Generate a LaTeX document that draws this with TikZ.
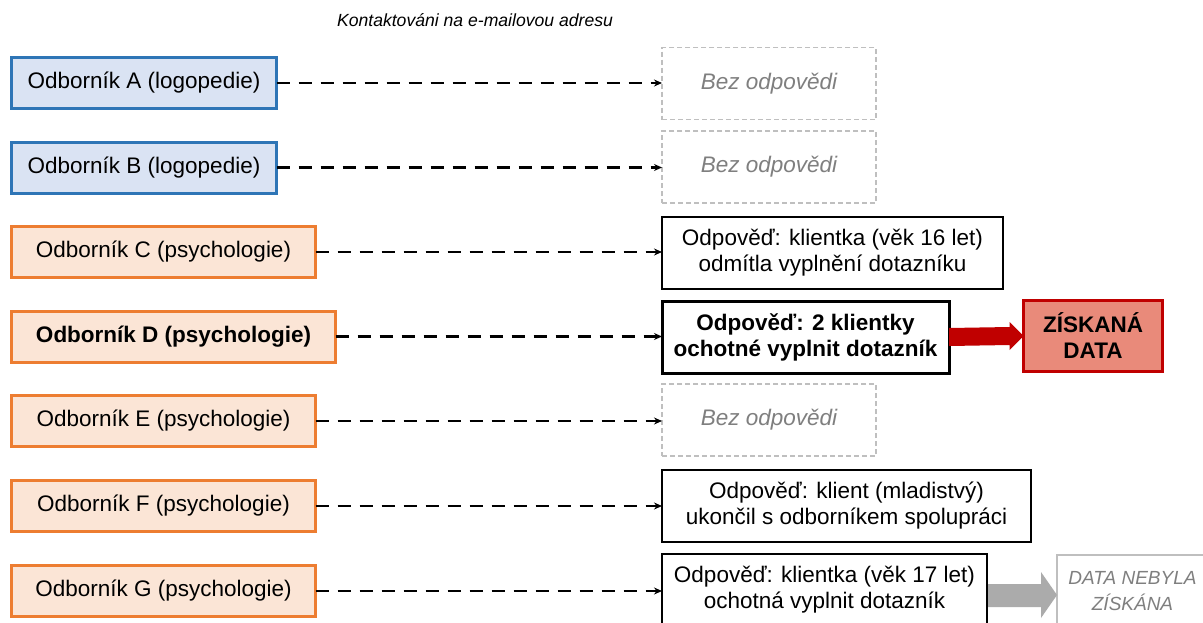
\documentclass[tikz,border=0pt]{standalone}
\usepackage{fontspec}
\setmainfont{Liberation Sans}
\usetikzlibrary{calc,arrows.meta}
\definecolor{bblue}{HTML}{2E75B6}
\definecolor{fblue}{HTML}{DAE3F3}
\definecolor{borange}{HTML}{ED7D31}
\definecolor{forange}{HTML}{FBE5D6}
\definecolor{dred}{HTML}{C00000}
\definecolor{salmon}{HTML}{E98A7A}
\definecolor{lgray}{HTML}{BFBFBF}
\definecolor{tgray}{HTML}{7F7F7F}
\definecolor{agray}{HTML}{ABABAB}
\begin{document}
\begin{tikzpicture}[x=1pt,y=-1pt,
  every node/.style={font=\fontsize{22.5}{26}\selectfont, align=center, inner sep=0pt, outer sep=0pt},
  logobox/.style={draw=bblue, fill=fblue, line width=3pt, minimum width=265pt, minimum height=51pt},
  psybox/.style={draw=borange, fill=forange, line width=3pt, minimum width=304pt, minimum height=51pt},
  noreply/.style={draw=lgray, dash pattern=on 5pt off 3pt, line width=1.5pt, text=tgray, font=\fontsize{22.5}{26}\selectfont\itshape, minimum width=214pt, minimum height=72pt, anchor=west},
  respbox/.style={draw=black, line width=2pt, minimum height=72pt, anchor=west},
  dlink/.style={draw=black, line width=2.3pt, dash pattern=on 13pt off 9pt, -{Stealth[length=8pt,width=7pt]}},
]
\useasboundingbox (0,0) rectangle (1203,622);
\fill[white] (0,0) rectangle (1203,622);
\clip (0,0) rectangle (1203,622);

\node[font=\fontsize{17.6}{20}\selectfont\itshape] (T) at (475,20) {Kontaktováni na e-mailovou adresu};

\node[logobox] (A) at (144,83) {Odborník A (logopedie)};
\node[logobox] (B) at (144,167.5) {Odborník B (logopedie)};
\node[psybox] (C) at (163.5,252) {Odborník C (psychologie)};
\node[psybox, minimum width=324pt, font=\fontsize{22.5}{26}\selectfont\bfseries] (D) at (173.5,336.5) {Odborník D (psychologie)};
\node[psybox] (E) at (163.5,421) {Odborník E (psychologie)};
\node[psybox] (F) at (163.5,506) {Odborník F (psychologie)};
\node[psybox] (G) at (163.5,591) {Odborník G (psychologie)};

\node[noreply] (RA) at (662,83.5) {Bez odpovědi};
\node[noreply] (RB) at (662,167) {Bez odpovědi};
\node[respbox, minimum width=341pt] (RC) at (662,253) {Odpověď: klientka (věk 16 let)\\odmítla vyplnění dotazníku};
\node[respbox, minimum width=287pt, line width=3pt, font=\fontsize{22.5}{26}\selectfont\bfseries] (RD) at (662,337) {Odpověď: 2 klientky\\ochotné vyplnit dotazník};
\node[noreply] (RE) at (662,420) {Bez odpovědi};
\node[respbox, minimum width=369pt] (RF) at (662,506) {Odpověď: klient (mladistvý)\\ukončil s odborníkem spolupráci};
\node[respbox, minimum width=325pt] (RG) at (662,590) {Odpověď: klientka (věk 17 let)\\ochotná vyplnit dotazník};

\node[draw=dred, fill=salmon, line width=3pt, minimum width=139pt, minimum height=71pt, font=\fontsize{22.5}{26}\selectfont\bfseries] (Z) at (1093,336) {ZÍSKANÁ\\DATA};
\node[draw=lgray, line width=2pt, text=tgray, minimum width=151pt, minimum height=72pt, anchor=west, font=\fontsize{19}{26}\selectfont\itshape] (N) at (1057,591) {DATA NEBYLA\\ZÍSKÁNA};

\foreach \l/\r in {A/RA,B/RB,C/RC,D/RD,E/RE,F/RF,G/RG}
  \draw[dlink] (\l.east) -- (\l.east -| \r.west);

\fill[dred] ($(RD.east)+(0,-9)$) -- ($(Z.west)+(-14,-9)$) -- ($(Z.west)+(-14,-14)$) -- (Z.west)
  -- ($(Z.west)+(-14,14)$) -- ($(Z.west)+(-14,9)$) -- ($(RD.east)+(0,9)$) -- cycle;
\fill[agray] ($(RG.east)+(1,-6)$) -- ($(N.west)+(-16,-7)$) -- ($(N.west)+(-16,-19)$) -- ($(N.west)+(0,4)$)
  -- ($(N.west)+(-16,27)$) -- ($(N.west)+(-16,16)$) -- ($(RG.east)+(1,17)$) -- cycle;
\end{tikzpicture}
\end{document}
